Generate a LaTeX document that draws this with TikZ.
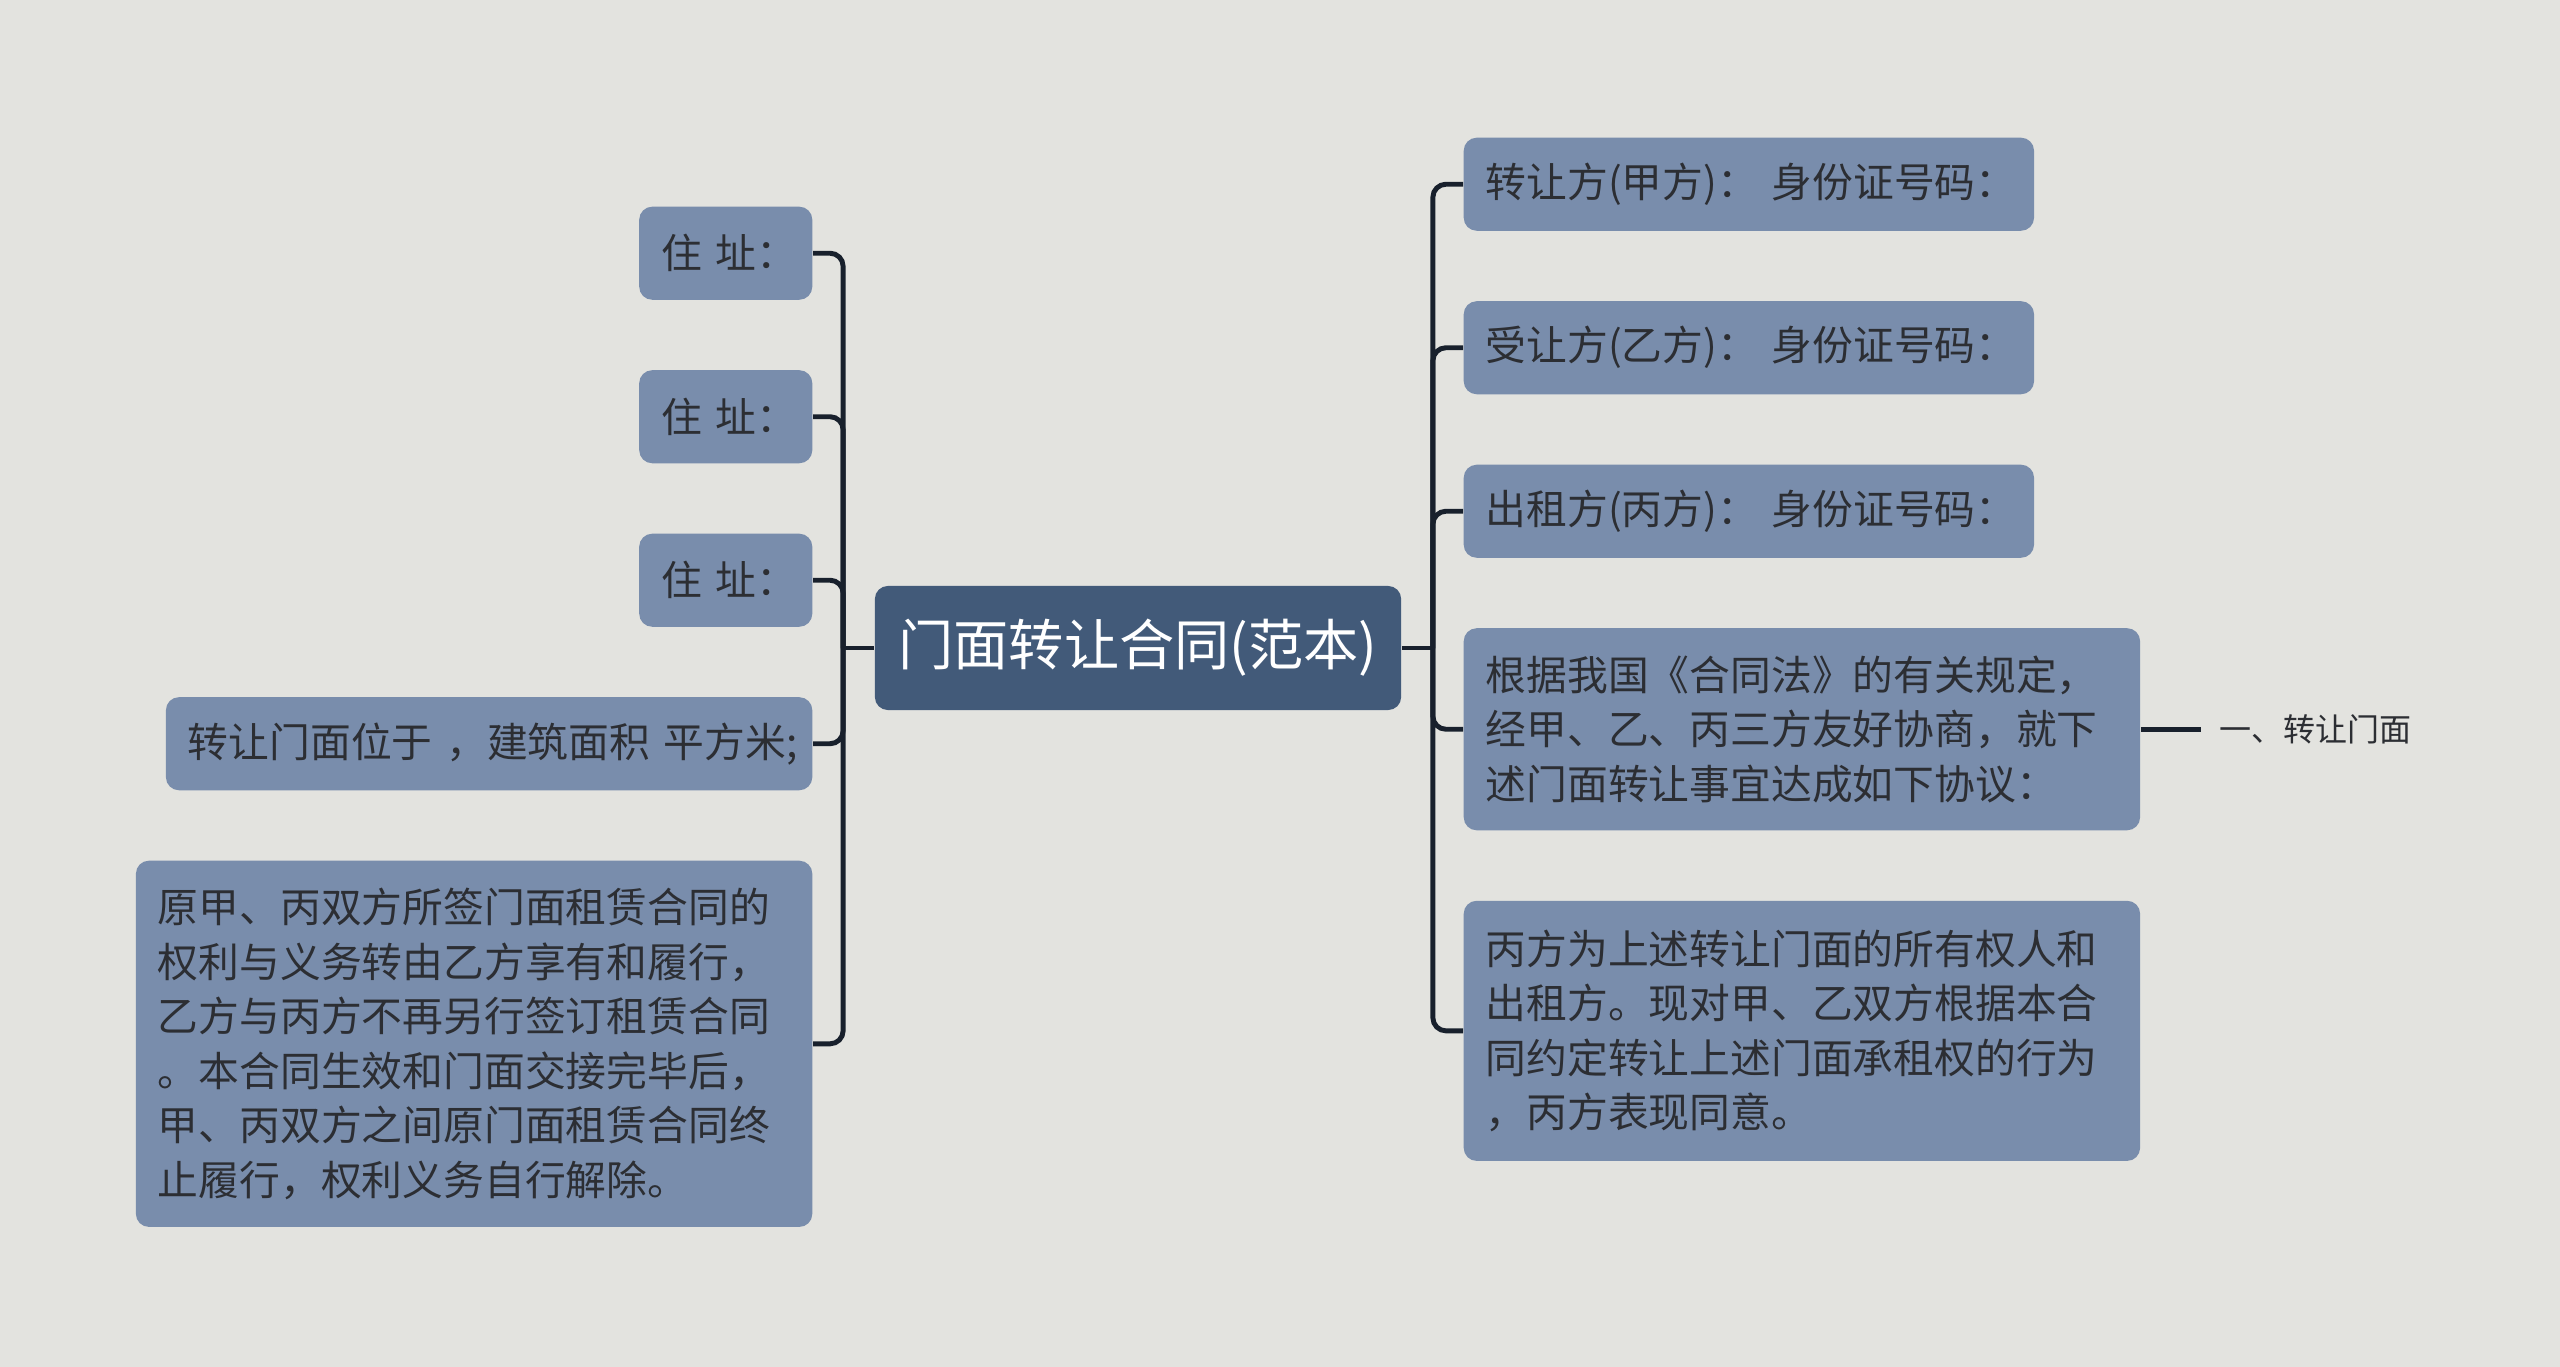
\documentclass[tikz,border=0pt]{standalone}
\usepackage{fontspec}
\setmainfont{Noto Sans CJK SC}
\usepackage{xcolor}
\usepackage{tikz}
\usetikzlibrary{positioning}

\definecolor{bgcol}{HTML}{E3E3DF}
\definecolor{rootcol}{HTML}{425A79}
\definecolor{boxcol}{HTML}{798DAC}
\definecolor{linecol}{HTML}{18202C}
\definecolor{txtcol}{HTML}{2C2E33}

\begin{document}
\begin{tikzpicture}[
        x=0.01cm, y=-0.01cm,
        node distance=0.69cm,
        titlebox/.style={rectangle, fill=rootcol, rounded corners=0.13cm, minimum width=5.26cm, minimum height=1.24cm, text=white, font=\fontsize{15.7}{19}\selectfont},
        topic/.style={rectangle, fill=boxcol, rounded corners=0.13cm, text=txtcol, align=left, inner xsep=0.22cm, inner ysep=0.2cm, minimum height=0.93cm, font=\fontsize{11.6}{15.5}\selectfont},
        leaf/.style={text=txtcol, inner xsep=0.18cm, font=\fontsize{9.1}{12}\selectfont},
        conn/.style={draw=linecol, line width=1.4pt, rounded corners=0.13cm},
    ]
        % Canvas
        \fill[bgcol] (0,0) rectangle (2560,1367);
        \useasboundingbox (0,0) rectangle (2560,1367);

        % Centre topic
        \node[titlebox] (title) at (1138,648) {门面转让合同(范本)};
        \coordinate (lhub) at ([xshift=-0.31cm]title.west);
        \coordinate (rhub) at ([xshift=0.31cm]title.east);

        % Left column
        \node[topic, text width=1.29cm, anchor=north east] (addrA) at (813,206) {住~址：};
        \node[topic, text width=1.29cm, below=of addrA.south east, anchor=north east] (addrB) {住~址：};
        \node[topic, text width=1.29cm, below=of addrB.south east, anchor=north east] (addrC) {住~址：};
        \node[topic, text width=6.02cm, below=of addrC.south east, anchor=north east] (site) {转让门面位于~，建筑面积~平方米;};
        \node[topic, text width=6.32cm, minimum height=3.66cm, below=of site.south east, anchor=north east] (terms) {原甲、丙双方所签门面租赁合同的\\权利与义务转由乙方享有和履行，\\乙方与丙方不再另行签订租赁合同\\。本合同生效和门面交接完毕后，\\甲、丙双方之间原门面租赁合同终\\止履行，权利义务自行解除。};

        % Right column
        \node[topic, text width=5.26cm, anchor=north west] (seller) at (1463,137) {转让方(甲方)：~身份证号码：};
        \node[topic, text width=5.26cm, below=of seller.south west, anchor=north west] (buyer) {受让方(乙方)：~身份证号码：};
        \node[topic, text width=5.26cm, below=of buyer.south west, anchor=north west] (lessor) {出租方(丙方)：~身份证号码：};
        \node[topic, text width=6.32cm, minimum height=2.02cm, below=of lessor.south west, anchor=north west] (basis) {根据我国《合同法》的有关规定，\\经甲、乙、丙三方友好协商，就下\\述门面转让事宜达成如下协议：};
        \node[topic, text width=6.32cm, minimum height=2.60cm, below=of basis.south west, anchor=north west] (consent) {丙方为上述转让门面的所有权人和\\出租方。现对甲、乙双方根据本合\\同约定转让上述门面承租权的行为\\，丙方表现同意。};

        % Sub topic
        \node[leaf, right=0.6cm of basis] (sec1) {一、转让门面};

        % Connectors — left
        \draw[conn] (title.west) -- (lhub);
        \draw[conn] (lhub) |- (addrA.east);
        \draw[conn] (lhub) |- (addrB.east);
        \draw[conn] (lhub) |- (addrC.east);
        \draw[conn] (lhub) |- (site.east);
        \draw[conn] (lhub) |- (terms.east);

        % Connectors — right
        \draw[conn] (title.east) -- (rhub);
        \draw[conn] (rhub) |- (seller.west);
        \draw[conn] (rhub) |- (buyer.west);
        \draw[conn] (rhub) |- (lessor.west);
        \draw[conn] (rhub) |- (basis.west);
        \draw[conn] (rhub) |- (consent.west);
        \draw[conn] (basis) -- (sec1);
    \end{tikzpicture}
\end{document}
